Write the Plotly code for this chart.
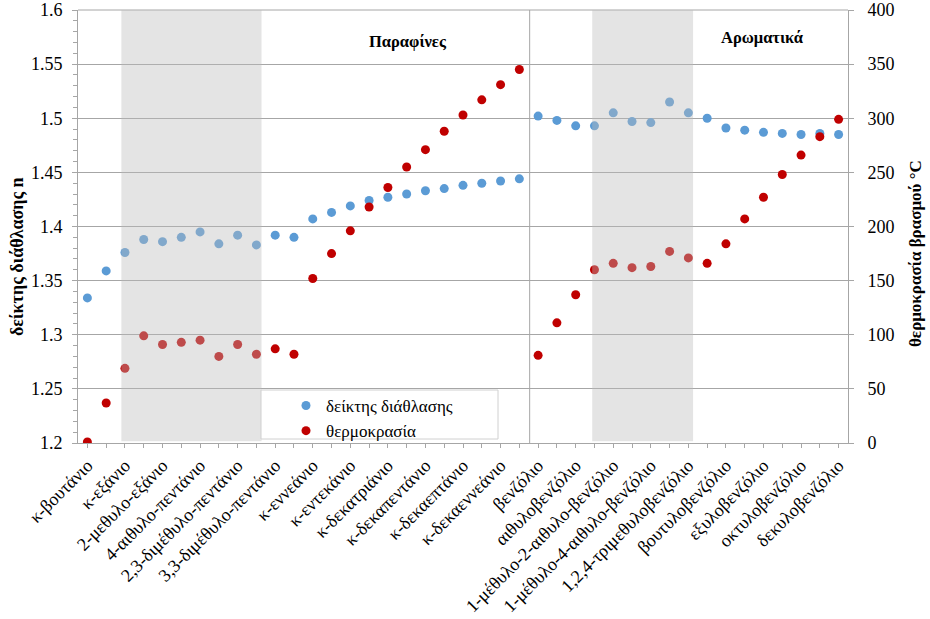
import plotly.graph_objects as go

compounds = ["κ-βουτάνιο", "κ-πεντάνιο", "κ-εξάνιο", "κ-επτάνιο", "2-μεθυλο-εξάνιο",
             "3-μεθυλο-εξάνιο", "4-αιθυλο-πεντάνιο", "2,2-διμέθυλο-πεντάνιο",
             "2,3-διμέθυλο-πεντάνιο", "2,4-διμέθυλο-πεντάνιο", "3,3-διμέθυλο-πεντάνιο",
             "2,2,3-τριμέθυλο-βουτάνιο", "κ-εννεάνιο", "κ-δεκάνιο", "κ-εντεκάνιο",
             "κ-δωδεκάνιο", "κ-δεκατριάνιο", "κ-δεκατετράνιο", "κ-δεκαπεντάνιο",
             "κ-δεκαεξάνιο", "κ-δεκαεπτάνιο", "κ-δεκαοκτάνιο", "κ-δεκαεννεάνιο",
             "κ-εικοσάνιο", "βενζόλιο", "τολουόλιο", "αιθυλοβενζόλιο", "προπυλοβενζόλιο",
             "1-μέθυλο-2-αιθυλο-βενζόλιο", "1-μέθυλο-3-αιθυλο-βενζόλιο",
             "1-μέθυλο-4-αιθυλο-βενζόλιο", "1,2,3-τριμεθυλοβενζόλιο",
             "1,2,4-τριμεθυλοβενζόλιο", "1,3,5-τριμεθυλοβενζόλιο", "βουτυλοβενζόλιο",
             "πεντυλοβενζόλιο", "εξυλοβενζόλιο", "επτυλοβενζόλιο", "οκτυλοβενζόλιο",
             "εννεϋλοβενζόλιο", "δεκυλοβενζόλιο"]

refractive_index = [1.334, 1.359, 1.376, 1.388, 1.386, 1.390, 1.395, 1.384, 1.392, 1.383,
                    1.392, 1.390, 1.407, 1.413, 1.419, 1.424, 1.427, 1.430, 1.433, 1.435,
                    1.438, 1.440, 1.442, 1.444, 1.502, 1.498, 1.493, 1.493, 1.505, 1.497,
                    1.496, 1.515, 1.505, 1.500, 1.491, 1.489, 1.487, 1.486, 1.485, 1.486,
                    1.485]

boiling_point = [1, 37, 69, 99, 91, 93, 95, 80, 91, 82, 87, 82, 152, 175, 196, 218, 236,
                 255, 271, 288, 303, 317, 331, 345, 81, 111, 137, 160, 166, 162, 163, 177,
                 171, 166, 184, 207, 227, 248, 266, 283, 299]

group_labels = ["Παραφίνες", "Αρωματικά"]
series_names = ["δείκτης διάθλασης", "θερμοκρασία"]
axis_titles = ["δείκτης διάθλασης n", "θερμοκρασία βρασμού °C"]

FONT = "'Liberation Serif', 'Times New Roman', Times, serif"
BLUE = "#5B9BD5"
RED = "#C00000"
GRID = "#A6A6A6"

idx = list(range(len(compounds)))
ticktext = [c if i % 2 == 0 else "" for i, c in enumerate(compounds)]

fig = go.Figure()
fig.add_trace(go.Scatter(x=idx, y=refractive_index, mode="markers", name=series_names[0],
                         marker=dict(color=BLUE, size=9), yaxis="y"))
fig.add_trace(go.Scatter(x=idx, y=boiling_point, mode="markers", name=series_names[1],
                         marker=dict(color=RED, size=9), yaxis="y2"))

ML, MR, MT, MB = 78, 82, 10, 176
W, H = 930, 619
PW, PH = W - ML - MR, H - MT - MB


def px(xp):
    return (xp - ML) / PW


def py(yp):
    return 1 - (yp - MT) / PH


shapes = []
for x0, x1 in [(1.81, 9.27), (26.88, 32.25)]:
    shapes.append(dict(type="rect", xref="x", yref="paper", x0=x0, x1=x1, y0=0.004, y1=1,
                       fillcolor="rgb(187,187,187)", opacity=0.4, line=dict(width=0),
                       layer="above"))
shapes.append(dict(type="line", xref="x", yref="paper", x0=23.55, x1=23.55, y0=0, y1=1,
                   line=dict(color=GRID, width=1), layer="above"))
shapes.append(dict(type="rect", xref="paper", yref="paper", x0=px(261), x1=px(498),
                   y0=py(439), y1=py(390), fillcolor="white",
                   line=dict(color="#D0D0D0", width=1), layer="above"))
shapes.append(dict(type="line", xref="paper", yref="paper", x0=0, x1=1, y0=1, y1=1,
                   line=dict(color=GRID, width=1), layer="below"))

annotations = [
    dict(text="<b>" + group_labels[0] + "</b>", x=px(408), y=py(41), xref="paper",
         yref="paper", xanchor="center", yanchor="middle", showarrow=False,
         font=dict(family=FONT, size=16.5, color="black")),
    dict(text="<b>" + group_labels[1] + "</b>", x=px(762), y=py(38), xref="paper",
         yref="paper", xanchor="center", yanchor="middle", showarrow=False,
         font=dict(family=FONT, size=16.5, color="black")),
    dict(text="<b>" + axis_titles[0] + "</b>", x=px(17), y=py(257), xref="paper",
         yref="paper", xanchor="center", yanchor="middle", showarrow=False, textangle=-90,
         font=dict(family=FONT, size=18, color="black")),
    dict(text="<b>" + axis_titles[1] + "</b>", x=px(915), y=py(254), xref="paper",
         yref="paper", xanchor="center", yanchor="middle", showarrow=False, textangle=-90,
         font=dict(family=FONT, size=17, color="black")),
]

fig.update_layout(
    width=W, height=H,
    margin=dict(l=ML, r=MR, t=MT, b=MB, autoexpand=False),
    paper_bgcolor="white", plot_bgcolor="white",
    font=dict(family=FONT, size=17, color="black"),
    showlegend=True,
    legend=dict(x=px(286), y=py(388), xanchor="left", yanchor="top",
                bgcolor="rgba(0,0,0,0)", borderwidth=0, itemwidth=30,
                font=dict(family=FONT, size=17, color="black"), tracegroupgap=0),
    xaxis=dict(range=[-0.5, 40.5], tickmode="array", tickvals=idx, ticktext=ticktext,
               tickangle=-45, ticks="outside", ticklen=4, tickcolor=GRID,
               showline=True, linecolor=GRID, linewidth=1, showgrid=False, zeroline=False,
               tickfont=dict(family=FONT, size=18, color="black")),
    yaxis=dict(range=[1.2, 1.6], dtick=0.05, ticks="outside", ticklen=5,
               tickcolor=GRID, showline=True, linecolor=GRID, linewidth=1,
               showgrid=True, gridcolor=GRID, gridwidth=1, zeroline=False,
               ticklabelstandoff=6,
               minor=dict(dtick=0.01, ticks="outside", ticklen=4, tickcolor=GRID,
                          showgrid=False),
               tickfont=dict(family=FONT, size=18, color="black")),
    yaxis2=dict(range=[0, 400], dtick=50, overlaying="y", side="right", ticks="outside",
                ticklen=5, tickcolor=GRID, showline=True, linecolor=GRID, linewidth=1,
                showgrid=False, zeroline=False, ticklabelstandoff=10,
                tickfont=dict(family=FONT, size=18, color="black")),
    shapes=shapes,
    annotations=annotations,
)

fig.write_html("out.html", config={"displayModeBar": False},
               post_script="document.body.style.margin='0';")
